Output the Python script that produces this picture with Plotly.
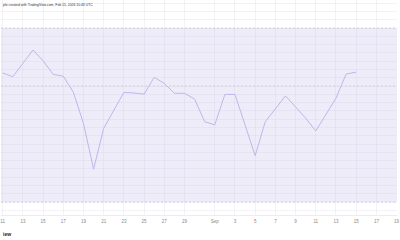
import plotly.graph_objects as go
import pandas as pd

dates = pd.date_range("2025-08-11", "2025-09-15", freq="D")
values = [54.5, 53.2, 57.8, 62.4, 58.7, 54.0, 53.4, 47.8, 37.1, 21.3,
          35.4, 41.7, 47.8, 47.6, 47.2, 53.0, 50.9, 47.5, 47.5, 45.5,
          37.7, 36.6, 47.1, 47.1, 36.6, 26.0, 37.7, 42.1, 46.6, 42.8,
          38.9, 34.5, 40.0, 45.8, 54.1, 54.8]

tick_dates = ["2025-08-11", "2025-08-13", "2025-08-15", "2025-08-17", "2025-08-19",
              "2025-08-21", "2025-08-23", "2025-08-25", "2025-08-27", "2025-08-29",
              "2025-09-01", "2025-09-03", "2025-09-05", "2025-09-07", "2025-09-09",
              "2025-09-11", "2025-09-13", "2025-09-15", "2025-09-17", "2025-09-19"]
tick_text = ["11", "13", "15", "17", "19", "21", "23", "25", "27", "29",
             "Sep", "3", "5", "7", "9", "11", "13", "15", "17", "19"]

upper_level = 70
middle_level = 50
lower_level = 10

fig = go.Figure()
fig.add_shape(type="rect", xref="paper", yref="y", x0=0, x1=1,
              y0=lower_level, y1=upper_level, fillcolor="#efecf9",
              line=dict(width=0), layer="below")
for lv in [upper_level, middle_level, lower_level]:
    fig.add_shape(type="line", xref="paper", yref="y", x0=0, x1=1, y0=lv, y1=lv,
                  line=dict(color="#d2cfdc", width=1, dash="2px,2px"), layer="above")

fig.add_trace(go.Scatter(x=dates, y=values, mode="lines",
                         line=dict(color="#c2b5ea", width=1), hoverinfo="skip"))

fig.add_annotation(text="ple created with TradingView.com, Feb 15, 2026 10:43 UTC",
                   xref="paper", yref="paper", x=0, y=1, xanchor="left", yanchor="top",
                   yshift=-1, showarrow=False, font=dict(size=3.4, color="#333333",
                   family="Liberation Sans"))
fig.add_annotation(text="<b>iew</b>", xref="paper", yref="paper", x=0, y=0,
                   xanchor="left", yanchor="top", yshift=-14, showarrow=False,
                   font=dict(size=5, color="#222222", family="Liberation Sans"))

grid_col = "rgba(200,195,220,0.22)"
fig.update_layout(
    width=400, height=240,
    margin=dict(l=0, r=0, t=0, b=25),
    paper_bgcolor="white", plot_bgcolor="white",
    showlegend=False,
    xaxis=dict(range=["2025-08-10 20:00", "2025-09-19 01:00"],
               tickvals=tick_dates, ticktext=tick_text,
               tickfont=dict(size=4.5, color="#888888", family="Liberation Sans"),
               ticklabeloverflow="allow",
               showgrid=True, gridcolor=grid_col, gridwidth=1,
               zeroline=False, showline=True, linecolor="rgba(200,200,210,0.35)",
               ticks="", ticklabelstandoff=2, fixedrange=True),
    yaxis=dict(range=[5.52, 79.66], tick0=50, dtick=20/7,
               showticklabels=False, showgrid=True,
               gridcolor=grid_col, gridwidth=1,
               zeroline=False, showline=False, fixedrange=True),
)

fig.write_html("out.html")
